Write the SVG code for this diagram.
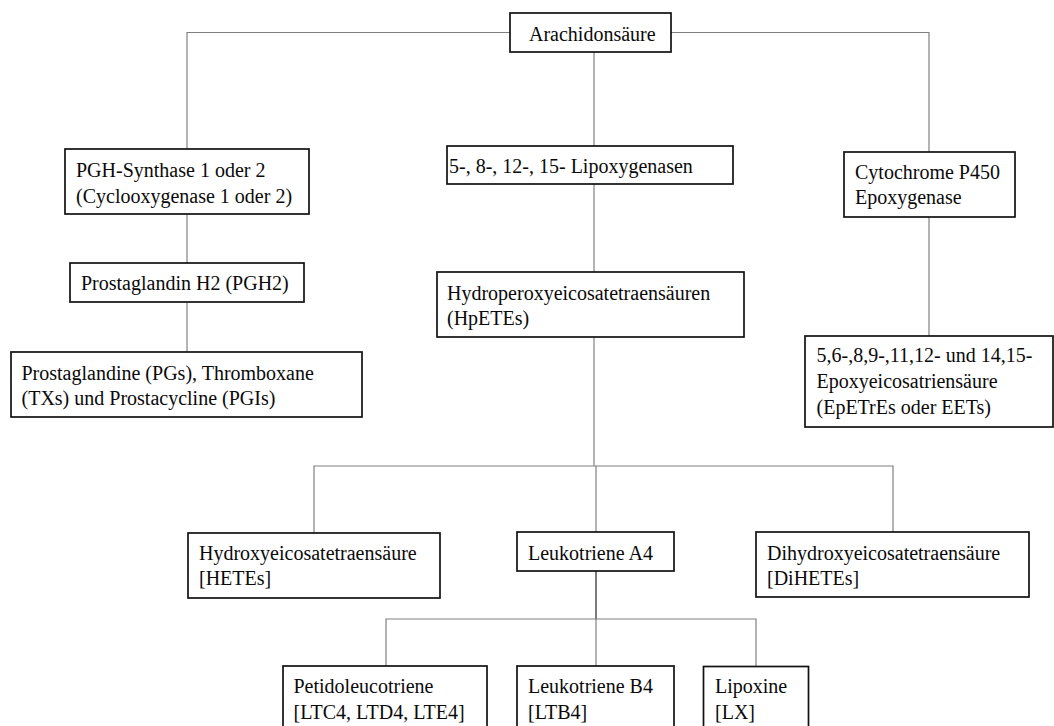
<svg xmlns="http://www.w3.org/2000/svg" width="1054" height="726" viewBox="0 0 1054 726">
  <style>
    .box { fill: #ffffff; stroke: #111111; stroke-width: 1.7; }
    .link { fill: none; stroke: #808080; stroke-width: 1.2; }
    .link-dark { fill: none; stroke: #444444; stroke-width: 1.4; }
    .label { font-family: 'Liberation Serif', 'Times New Roman', Times, serif; font-size: 20px; fill: #0a0a0a; }
  </style>
  <rect width="1054" height="726" fill="#ffffff"/>

  <g id="connectors">
    <!-- Arachidonsäure to the three enzyme groups -->
    <polyline class="link" points="187,149 187,32.5 510,32.5"/>
    <polyline class="link" points="671,32.5 929,32.5 929,152"/>
    <line class="link" x1="594" y1="52" x2="594" y2="146"/>
    <!-- COX branch -->
    <line class="link" x1="187" y1="214" x2="187" y2="263"/>
    <line class="link" x1="187" y1="302" x2="187" y2="352"/>
    <!-- LOX branch -->
    <line class="link" x1="594" y1="184" x2="594" y2="272"/>
    <line class="link" x1="594" y1="337" x2="594" y2="466"/>
    <polyline class="link" points="314,533 314,466 893,466 893,532"/>
    <line class="link" x1="596" y1="466" x2="596" y2="532"/>
    <!-- CYP450 branch -->
    <line class="link" x1="929" y1="217" x2="929" y2="336"/>
    <!-- Leukotriene A4 products -->
    <line class="link-dark" x1="596" y1="571" x2="596" y2="619"/>
    <polyline class="link" points="386,666 386,619 756,619 756,666"/>
    <line class="link" x1="596" y1="619" x2="596" y2="666"/>
  </g>

  <g id="arachidonsaeure">
    <rect class="box" x="510" y="13" width="161" height="39"/>
    <text class="label" x="529" y="40.5">Arachidonsäure</text>
  </g>

  <g id="pgh-synthase">
    <rect class="box" x="65" y="149" width="244" height="65"/>
    <text class="label" x="76" y="176.5">PGH-Synthase 1 oder 2</text>
    <text class="label" x="76" y="202.5">(Cyclooxygenase 1 oder 2)</text>
  </g>

  <g id="lipoxygenasen">
    <rect class="box" x="447" y="146" width="286" height="38"/>
    <text class="label" x="449" y="172.5">5-, 8-, 12-, 15- Lipoxygenasen</text>
  </g>

  <g id="cytochrome-p450">
    <rect class="box" x="844" y="152" width="171" height="65"/>
    <text class="label" x="855" y="178.5">Cytochrome P450</text>
    <text class="label" x="855" y="204">Epoxygenase</text>
  </g>

  <g id="pgh2">
    <rect class="box" x="70" y="263" width="234" height="39"/>
    <text class="label" x="81" y="290">Prostaglandin H2 (PGH2)</text>
  </g>

  <g id="prostanoide">
    <rect class="box" x="11" y="352" width="351" height="65"/>
    <text class="label" x="21.5" y="380">Prostaglandine (PGs), Thromboxane</text>
    <text class="label" x="21.5" y="405">(TXs) und Prostacycline (PGIs)</text>
  </g>

  <g id="hpetes">
    <rect class="box" x="437" y="272" width="307" height="65"/>
    <text class="label" x="447" y="300">Hydroperoxyeicosatetraensäuren</text>
    <text class="label" x="447" y="325">(HpETEs)</text>
  </g>

  <g id="eets">
    <rect class="box" x="805" y="336" width="248" height="91"/>
    <text class="label" x="816.5" y="361.5">5,6-,8,9-,11,12- und 14,15-</text>
    <text class="label" x="816.5" y="387.5">Epoxyeicosatriensäure</text>
    <text class="label" x="816.5" y="413.5">(EpETrEs oder EETs)</text>
  </g>

  <g id="hetes">
    <rect class="box" x="188" y="533" width="252" height="65"/>
    <text class="label" x="199" y="559.5">Hydroxyeicosatetraensäure</text>
    <text class="label" x="199" y="585">[HETEs]</text>
  </g>

  <g id="leukotriene-a4">
    <rect class="box" x="517" y="532" width="157" height="39"/>
    <text class="label" x="528" y="559.5">Leukotriene A4</text>
  </g>

  <g id="dihetes">
    <rect class="box" x="756" y="532" width="273" height="65"/>
    <text class="label" x="767" y="559.5">Dihydroxyeicosatetraensäure</text>
    <text class="label" x="767" y="585">[DiHETEs]</text>
  </g>

  <g id="peptidoleukotriene">
    <rect class="box" x="283" y="666" width="204" height="70"/>
    <text class="label" x="293.5" y="692.5">Petidoleucotriene</text>
    <text class="label" x="293.5" y="718.5">[LTC4, LTD4, LTE4]</text>
  </g>

  <g id="leukotriene-b4">
    <rect class="box" x="517" y="666" width="157" height="70"/>
    <text class="label" x="528" y="692.5">Leukotriene B4</text>
    <text class="label" x="528" y="718.5">[LTB4]</text>
  </g>

  <g id="lipoxine">
    <rect class="box" x="703.5" y="666.5" width="105" height="70"/>
    <text class="label" x="715" y="692.5">Lipoxine</text>
    <text class="label" x="715" y="718.5">[LX]</text>
  </g>
</svg>
